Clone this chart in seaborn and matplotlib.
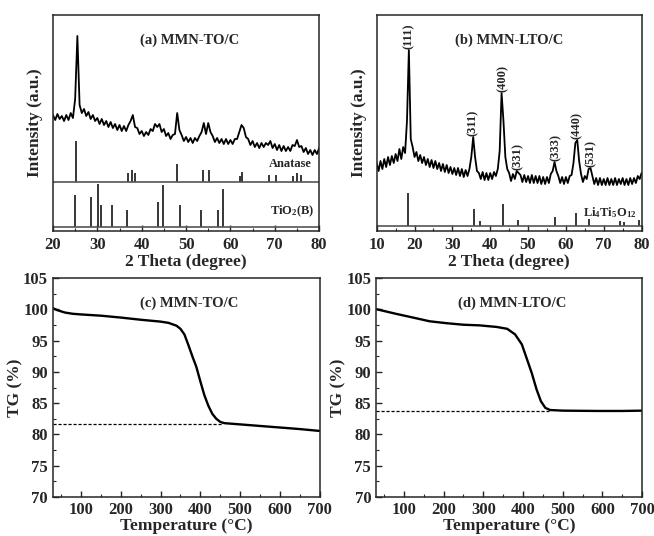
import numpy as np
import pandas as pd
import seaborn as sns
import matplotlib.pyplot as plt
from matplotlib.ticker import MultipleLocator, NullLocator

# ---- (a) MMN-TO/C : measured pattern, 0.5 deg steps 20..80 (arb. units) ----
two_theta_a = np.arange(20, 80.01, 0.5)
intensity_a = [116, 111, 117, 112, 115, 110, 116, 111, 118, 113,   # 20-24.5
               132, 195, 126, 118, 122, 115, 119, 112, 116, 110,   # 25-29.5
               113, 107, 112, 106, 110, 104, 109, 103, 107, 101,   # 30-34.5
               106, 100, 105, 100, 106, 110, 116, 104, 103, 97,    # 35-39.5
               100, 95, 99, 96, 102, 100, 107, 104, 107, 99,       # 40-44.5
               102, 95, 98, 92, 96, 97, 118, 101, 96, 90,          # 45-49.5
               94, 89, 93, 88, 93, 90, 95, 99, 108, 97,            # 50-54.5
               108, 99, 95, 89, 93, 88, 92, 87, 92, 87,            # 55-59.5
               91, 87, 92, 92, 99, 106, 103, 94, 92, 86,           # 60-64.5
               90, 84, 88, 83, 88, 84, 88, 86, 90, 83,             # 65-69.5
               87, 81, 86, 80, 85, 80, 84, 80, 86, 85,             # 70-74.5
               91, 84, 85, 79, 83, 77, 81, 76, 81, 77,             # 75-79.5
               83]                                                 # 80
anatase_pos = [25.3, 36.9, 37.8, 38.6, 48.0, 53.9, 55.1, 62.1, 62.7, 68.8, 70.3, 74.1, 75.0, 76.0]
anatase_int = [41, 9, 12, 9, 18, 12, 12, 6, 10, 7, 7, 6, 9, 7]
tio2b_pos = [24.9, 28.6, 30.1, 30.8, 33.3, 36.6, 43.6, 44.7, 48.6, 53.3, 57.3, 58.4]
tio2b_int = [32, 30, 43, 22, 22, 17, 25, 42, 22, 17, 17, 38]

# ---- (b) MMN-LTO/C : measured pattern, 0.5 deg steps 10..80 ----
two_theta_b = np.arange(10, 80.01, 0.5)
intensity_b = [68, 60, 70, 62, 72, 64, 74, 66, 75, 68,      # 10-14.5
               77, 70, 82, 72, 84, 78, 110, 181, 92, 84,    # 15-19.5
               74, 79, 70, 76, 68, 74, 66, 72, 64, 71,      # 20-24.5
               63, 70, 62, 68, 60, 67, 59, 66, 58, 64,      # 25-29.5
               57, 63, 56, 63, 55, 62, 54, 61, 55, 62,      # 30-34.5
               74, 94, 74, 60, 58, 52, 59, 51, 58, 51,      # 35-39.5
               58, 52, 59, 55, 62, 80, 138, 110, 74, 62,    # 40-44.5
               58, 50, 57, 52, 60, 58, 56, 49, 56, 49,      # 45-49.5
               55, 48, 56, 48, 55, 48, 55, 47, 54, 47,      # 50-54.5
               54, 48, 57, 60, 69, 60, 55, 48, 54, 47,      # 55-59.5
               54, 48, 55, 56, 68, 88, 91, 70, 57, 49,      # 60-64.5
               55, 52, 62, 63, 55, 47, 53, 46, 53, 46,      # 65-69.5
               52, 46, 53, 46, 52, 46, 53, 46, 52, 47,      # 70-74.5
               53, 46, 52, 46, 53, 47, 53, 48, 55, 52,      # 75-79.5
               58]                                          # 80
lto_pos = [18.4, 35.6, 37.2, 43.3, 47.4, 57.2, 62.8, 66.0, 74.3, 75.4, 79.3]
lto_int = [33, 17, 5, 22, 6, 9, 13, 7, 5, 4, 6]
hkl_labels = ['(111)', '(311)', '(400)', '(331)', '(333)', '(440)', '(531)']
hkl_pos = [18.4, 35.5, 43.3, 47.4, 57.3, 62.8, 66.5]

# ---- (c), (d) TG curves ----
temp_c = [30, 40, 60, 80, 100, 150, 200, 250, 300, 320, 340, 350, 360, 370, 380,
          390, 400, 410, 420, 430, 440, 450, 460, 480, 500, 550, 600, 650, 700]
tg_c = [100.2, 99.9, 99.5, 99.3, 99.2, 99.0, 98.7, 98.35, 98.05, 97.85, 97.4, 96.9,
        96.0, 94.3, 92.5, 90.8, 88.5, 86.3, 84.6, 83.3, 82.5, 82.0, 81.8, 81.7, 81.6,
        81.35, 81.1, 80.85, 80.55]
temp_d = [30, 80, 130, 165, 207, 250, 290, 333, 360, 380, 397, 409, 422, 434, 445,
          456, 468, 500, 586, 650, 700]
tg_d = [100.05, 99.3, 98.6, 98.1, 97.8, 97.55, 97.45, 97.2, 96.9, 96.0, 94.4, 92.2,
        89.8, 87.2, 85.3, 84.25, 83.9, 83.8, 83.75, 83.75, 83.8]
residue_c, knee_c = 81.6, 455
residue_d, knee_d = 83.8, 465

sns.set_style('ticks')
plt.rcParams['font.family'] = ['Liberation Serif', 'DejaVu Serif']
plt.rcParams['font.weight'] = 'bold'
plt.rcParams['axes.labelweight'] = 'bold'
plt.rcParams['mathtext.fontset'] = 'custom'
plt.rcParams['mathtext.rm'] = 'Liberation Serif:bold'
plt.rcParams['mathtext.default'] = 'rm'
plt.rcParams['axes.linewidth'] = 1.1

tick_fs = 12
label_fs = 12.5
title_fs = 10.5
note_fs = 9

fig = plt.figure(figsize=(6.54, 5.36), dpi=100)
ax_a = fig.add_axes([0.081, 0.569, 0.407, 0.403])
ax_b = fig.add_axes([0.576, 0.569, 0.405, 0.403])
ax_c = fig.add_axes([0.081, 0.073, 0.408, 0.408])
ax_d = fig.add_axes([0.575, 0.073, 0.407, 0.408])


def style_xrd(ax, xlo):
    ax.set_xlim(xlo, 80)
    ax.set_ylim(0, 216)
    ax.xaxis.set_major_locator(MultipleLocator(10))
    ax.xaxis.set_minor_locator(MultipleLocator(5))
    ax.yaxis.set_major_locator(NullLocator())
    ax.tick_params(axis='x', which='major', direction='in', length=4, width=1,
                   labelsize=tick_fs, pad=4)
    ax.tick_params(axis='x', which='minor', direction='in', length=2.5, width=0.8)
    ax.set_xlabel('2 Theta (degree)', fontsize=label_fs, labelpad=1)
    ax.set_ylabel('Intensity (a.u.)', fontsize=label_fs, labelpad=7)


def style_tg(ax):
    ax.set_xlim(30, 700)
    ax.set_ylim(70, 105)
    ax.xaxis.set_major_locator(MultipleLocator(100))
    ax.xaxis.set_minor_locator(MultipleLocator(50))
    ax.yaxis.set_major_locator(MultipleLocator(5))
    ax.yaxis.set_minor_locator(MultipleLocator(2.5))
    ax.tick_params(which='major', direction='in', length=4, width=1,
                   labelsize=tick_fs, pad=3.5)
    ax.tick_params(which='minor', direction='in', length=2.5, width=0.8)
    ax.set_xlabel('Temperature (\u00b0C)', fontsize=label_fs, labelpad=0)
    ax.set_ylabel('TG (%)', fontsize=label_fs, labelpad=0)


# (a)
df_a = pd.DataFrame({'two_theta': two_theta_a, 'intensity': intensity_a})
sns.lineplot(data=df_a, x='two_theta', y='intensity', ax=ax_a, color='black',
             lw=1.3, sort=False, estimator=None)
ax_a.vlines(anatase_pos, 49, 49 + np.array(anatase_int), color='black', lw=1.1)
ax_a.axhline(49, color='#555555', lw=1.2)
ax_a.vlines(tio2b_pos, 4.3, 4.3 + np.array(tio2b_int), color='black', lw=1.1)
ax_a.axhline(4.3, color='#555555', lw=1.2)
ax_a.text(73.5, 67, 'Anatase', fontsize=note_fs, ha='center', va='center')
ax_a.text(74.0, 20, 'TiO$_2$(B)', fontsize=note_fs, ha='center', va='center')
ax_a.text(0.515, 0.884, '(a) MMN-TO/C', transform=ax_a.transAxes,
          fontsize=title_fs, ha='center', va='center')
style_xrd(ax_a, 20)

# (b)
df_b = pd.DataFrame({'two_theta': two_theta_b, 'intensity': intensity_b})
sns.lineplot(data=df_b, x='two_theta', y='intensity', ax=ax_b, color='black',
             lw=1.3, sort=False, estimator=None)
ax_b.vlines(lto_pos, 5, 5 + np.array(lto_int), color='black', lw=1.1)
ax_b.axhline(5, color='#555555', lw=1.2)
ax_b.text(71.5, 18, 'Li$_4$Ti$_5$O$_{12}$', fontsize=note_fs, ha='center', va='center')
int_b = np.array(intensity_b)
for lab, pos in zip(hkl_labels, hkl_pos):
    near = np.abs(two_theta_b - pos) <= 0.6
    ax_b.text(pos, int_b[near].max() + 1, lab, rotation=90, fontsize=note_fs,
              ha='center', va='bottom')
ax_b.text(0.50, 0.884, '(b) MMN-LTO/C', transform=ax_b.transAxes,
          fontsize=title_fs, ha='center', va='center')
style_xrd(ax_b, 10)

# (c), (d)
for ax, temp, tg, res, knee, title in [
        (ax_c, temp_c, tg_c, residue_c, knee_c, '(c) MMN-TO/C'),
        (ax_d, temp_d, tg_d, residue_d, knee_d, '(d) MMN-LTO/C')]:
    df = pd.DataFrame({'temperature': temp, 'tg': tg})
    sns.lineplot(data=df, x='temperature', y='tg', ax=ax, color='black', lw=1.7,
                 sort=False, estimator=None)
    ax.hlines(res, 30, knee, colors='black', lw=0.9, linestyles=(0, (2.5, 1.5)))
    ax.text(0.51, 0.886, title, transform=ax.transAxes, fontsize=title_fs,
            ha='center', va='center')
    style_tg(ax)

fig.savefig('out.png', dpi=100)
